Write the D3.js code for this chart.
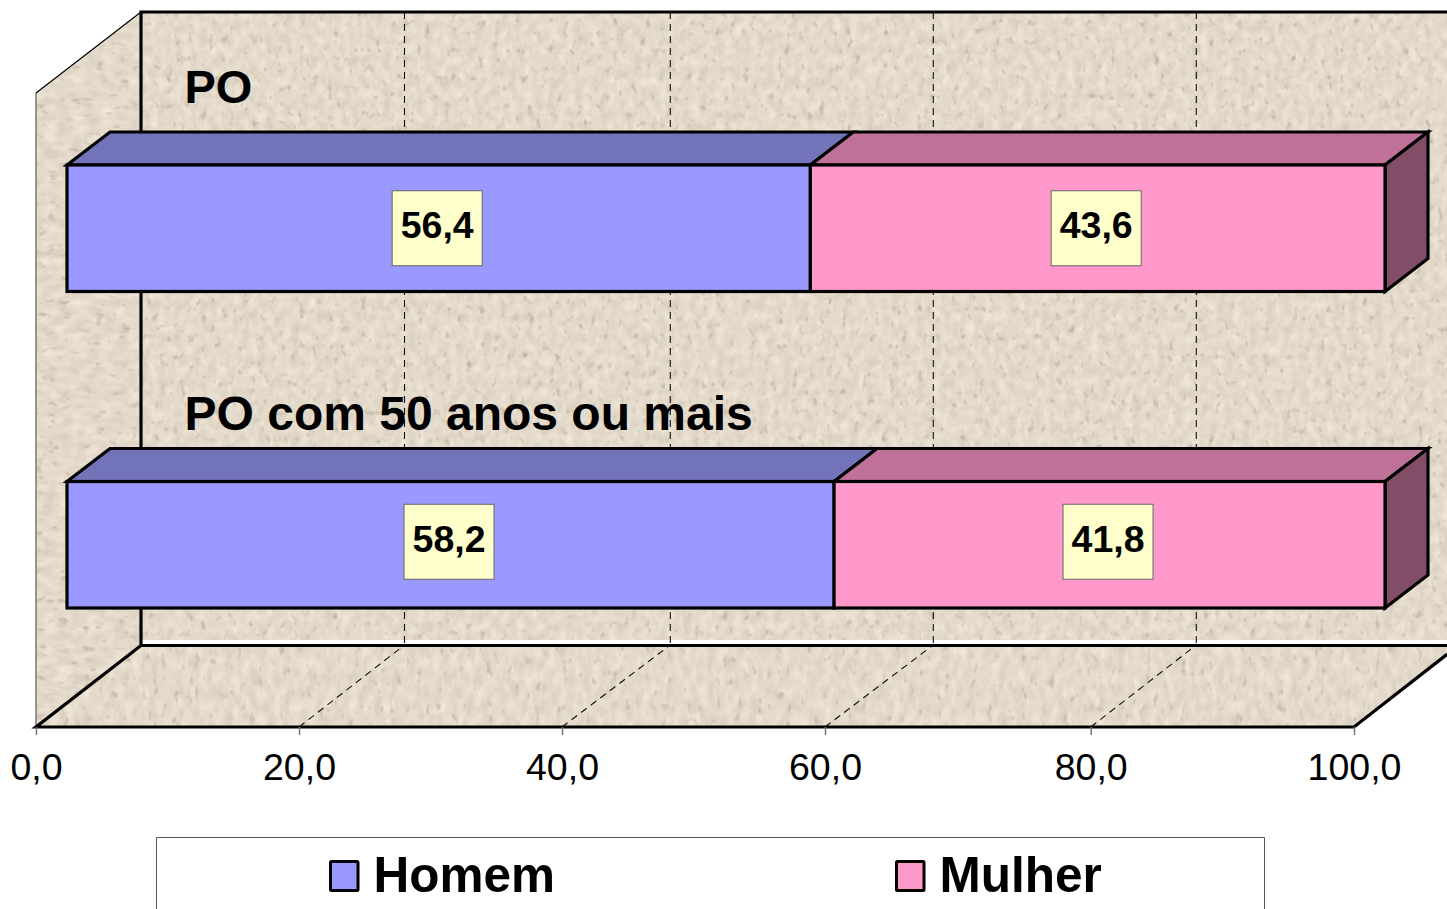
<!DOCTYPE html>
<html><head><meta charset="utf-8">
<script src="https://cdn.jsdelivr.net/npm/d3@7"></script>
<style>html,body{margin:0;padding:0;background:#fff;overflow:hidden}svg{display:block}text{font-family:"Liberation Sans",Arial,sans-serif;fill:#000}</style>
</head><body><svg id="c" width="1447" height="909"></svg>
<script>
const categories = ["PO", "PO com 50 anos ou mais"];
const seriesNames = ["Homem", "Mulher"];
const homem = [56.4, 58.2];
const mulher = [43.6, 41.8];
const tickValues = [0, 20, 40, 60, 80, 100];
const gridValues = [20, 40, 60, 80];
const colors = {Homem:"#9999ff", Mulher:"#ff99cc"};
const topColors = {Homem:"#7373ba", Mulher:"#bf7199"};
const sideColor = "#824d67";

const svg = d3.select("#c");
const left = 36, floorY = 727, wallTop = 12, depthX = 105, depthY = 82;
const x = d3.scaleLinear().domain([0,100]).range([left, 1354]);
const xTick = d3.scaleLinear().domain(tickValues).range([36,299,562,825,1090.7,1354]);
const xBack = d3.scaleLinear().domain(tickValues).range([141,404.5,670.3,933.3,1196.3,1459]);
const y = d3.scaleBand().domain(categories).range([wallTop+depthY, floorY]).paddingInner(190/316.5).paddingOuter(95/316.5);
const pts = a => a.map(p=>p.join(",")).join(" ");

const defs = svg.append("defs");
function tex(id, seed, fx, fy){
  const f = defs.append("filter").attr("id",id).attr("x",0).attr("y",0).attr("width",1).attr("height",1).attr("color-interpolation-filters","sRGB");
  f.append("feTurbulence").attr("type","fractalNoise").attr("baseFrequency",fx+" "+fy).attr("numOctaves",2).attr("seed",seed).attr("result","n");
  f.append("feColorMatrix").attr("in","n").attr("type","matrix").attr("values","0.14 0 0 0 0.825  0.14 0 0 0 0.785  0.14 0 0 0 0.725  0 0 0 0 1").attr("result","base");
  f.append("feTurbulence").attr("type","fractalNoise").attr("baseFrequency",(fx*1.2)+" "+(fy*1.2)).attr("numOctaves",2).attr("seed",seed+20).attr("result","s");
  f.append("feColorMatrix").attr("in","s").attr("type","matrix").attr("values","0 0 0 0 0.70  0 0 0 0 0.65  0 0 0 0 0.58  2.6 0 0 0 -1.62").attr("result","speck");
  f.append("feMerge").selectAll("feMergeNode").data(["base","speck"]).join("feMergeNode").attr("in",d=>d);
}
tex("tWall",4,0.12,0.09); tex("tFloor",9,0.12,0.07); tex("tSide",13,0.07,0.12);
function plane(id, poly, filt){
  defs.append("clipPath").attr("id",id).append("polygon").attr("points",pts(poly));
  const xs=poly.map(p=>p[0]), ys=poly.map(p=>p[1]);
  const x0=d3.min(xs), y0=d3.min(ys);
  svg.append("g").attr("clip-path",`url(#${id})`).append("rect").attr("x",x0).attr("y",y0)
    .attr("width",d3.max(xs)-x0).attr("height",d3.max(ys)-y0).attr("filter",`url(#${filt})`);
}
// walls and floor
plane("cSide",[[left,floorY],[left,wallTop+depthY-1],[left+depthX,wallTop],[left+depthX,floorY-depthY]],"tSide");
plane("cWall",[[left+depthX,wallTop],[1447,wallTop],[1447,640],[left+depthX,640]],"tWall");
plane("cFloor",[[left,floorY],[left+depthX,floorY-depthY],[1459,floorY-depthY],[1354,floorY]],"tFloor");
svg.append("rect").attr("x",left+depthX).attr("y",640).attr("width",1320).attr("height",5).attr("fill","#fff");

// gridlines
svg.append("g").selectAll("line").data(gridValues).join("line")
  .attr("x1",d=>xBack(d)).attr("x2",d=>xBack(d)).attr("y1",wallTop).attr("y2",floorY-depthY)
  .attr("stroke","#111").attr("stroke-width",1.1).attr("stroke-dasharray","7 5");
svg.append("g").selectAll("line").data(gridValues).join("line")
  .attr("x1",d=>xTick(d)).attr("x2",d=>xBack(d)).attr("y1",floorY).attr("y2",floorY-depthY)
  .attr("stroke","#111").attr("stroke-width",1.1).attr("stroke-dasharray","7 5");

// wall outlines
function line(p, w, c){ svg.append("polyline").attr("points",pts(p)).attr("fill","none").attr("stroke",c||"#000").attr("stroke-width",w||3.2); }
line([[1447,wallTop],[left+depthX,wallTop],[left+depthX,645.5]]);
line([[left,floorY-.5],[left,wallTop+depthY-1]],1.5,"#777");
line([[left,wallTop+depthY-1],[left+depthX,wallTop]],1.2);
line([[left+depthX,645.5],[1447,645.5]]);
line([[left+depthX,645.5],[left,floorY],[1354,floorY],[1447,floorY-depthY*(93/105)]]);

// axis
const axis = d3.axisBottom(xTick).tickValues(tickValues).tickSize(8).tickPadding(10)
  .tickFormat(d=>d3.format(".1f")(d).replace(".",","));
const ga = svg.append("g").attr("transform",`translate(0,${floorY})`).call(axis);
ga.select(".domain").remove();
ga.selectAll("line").attr("stroke","#777").attr("stroke-width",1.5);
ga.selectAll("text").attr("font-size",37.5).attr("dy",0).attr("y",53);

// bars
const fx=31, fy=24, bdx=43, bdy=33;
const rows = categories.map((c,i)=>({c,i,segs:[{n:"Homem",a:0,b:homem[i]},{n:"Mulher",a:homem[i],b:homem[i]+mulher[i]}]}));
const labelDy = [0,-3];
const titleY = [103,430];
const titleSize = [47,48];
rows.forEach(r=>{
  const t = y(r.c)-fy, h = y.bandwidth();
  const g = svg.append("g");
  const apply = s=>s.attr("stroke","#000").attr("stroke-width",3.2).attr("stroke-linejoin","miter");
  r.segs.forEach(s=>{
    const X0=x(s.a)+fx, X1=x(s.b)+fx;
    apply(g.append("polygon").attr("points",pts([[X0,t],[X0+bdx,t-bdy],[X1+bdx,t-bdy],[X1,t]])).attr("fill",topColors[s.n]));
  });
  const Xe=x(100)+fx;
  apply(g.append("polygon").attr("points",pts([[Xe,t],[Xe+bdx,t-bdy],[Xe+bdx,t+h-bdy],[Xe,t+h]])).attr("fill",sideColor));
  r.segs.forEach(s=>{
    const X0=x(s.a)+fx, X1=x(s.b)+fx;
    apply(g.append("rect").attr("x",X0).attr("y",t).attr("width",X1-X0).attr("height",h).attr("fill",colors[s.n]));
  });
  r.segs.forEach(s=>{
    const cx=(x(s.a)+x(s.b))/2+fx-1.5, cy=t+h/2+labelDy[r.i];
    g.append("rect").attr("x",cx-45).attr("y",cy-37.5).attr("width",90).attr("height",75).attr("fill","#ffffcc").attr("stroke","#666").attr("stroke-width",1);
    g.append("text").attr("x",cx).attr("y",cy+10).attr("text-anchor","middle").attr("font-size",37.5).attr("font-weight","bold")
      .text(d3.format(".1f")(s.b-s.a).replace(".",","));
  });
  svg.append("text").attr("x",184.5).attr("y",titleY[r.i]).attr("font-size",titleSize[r.i]).attr("font-weight","bold").text(r.c);
});

// legend
svg.append("polyline").attr("points",pts([[156.5,909],[156.5,837.5],[1264.5,837.5],[1264.5,909]])).attr("fill","none").attr("stroke","#555").attr("stroke-width",1);
const legX = d3.scaleOrdinal().domain(seriesNames).range([329,895]);
const lg = svg.append("g").selectAll("g").data(seriesNames).join("g").attr("transform",d=>`translate(${legX(d)},0)`);
lg.append("rect").attr("x",1.5).attr("y",861.5).attr("width",27.5).attr("height",29).attr("rx",1).attr("fill",d=>colors[d]).attr("stroke","#000").attr("stroke-width",3);
lg.append("text").attr("x",44.5).attr("y",891.5).attr("font-size",49.5).attr("font-weight","bold").text(d=>d);
</script></body></html>
